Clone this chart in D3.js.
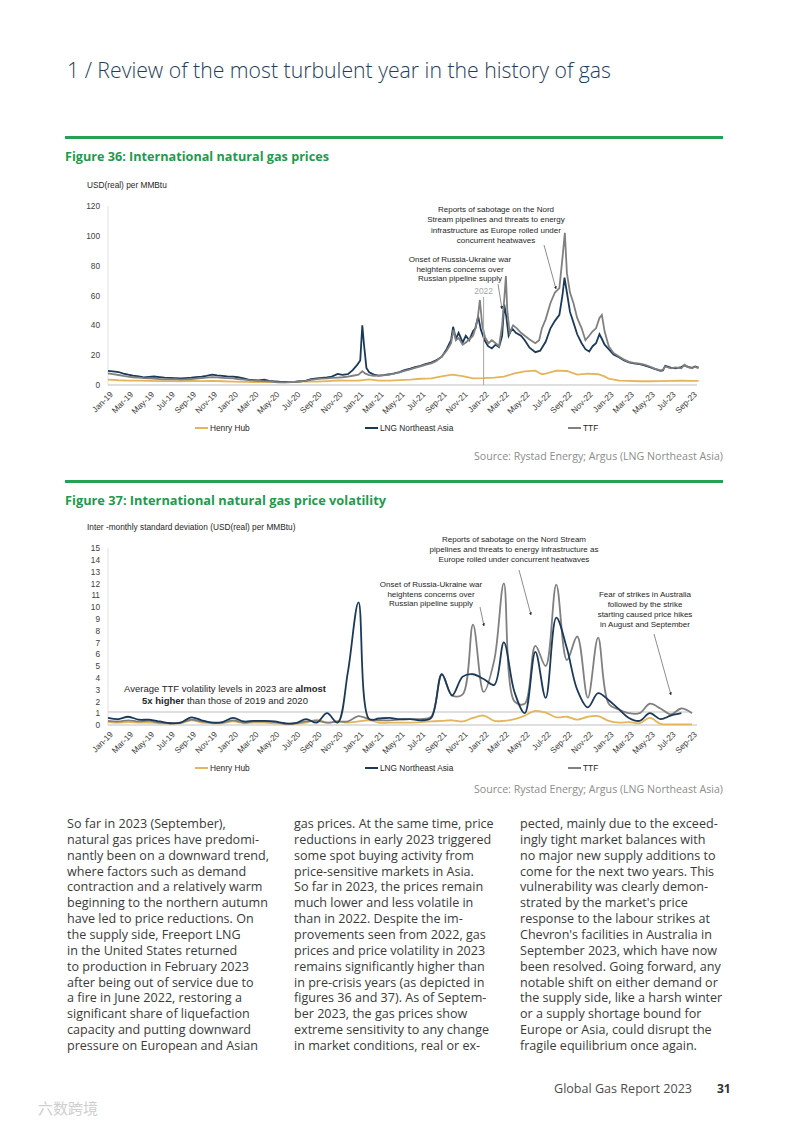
<!DOCTYPE html>
<html>
<head>
<meta charset="utf-8">
<script src="https://cdn.jsdelivr.net/npm/d3@7"></script>
<style>
  body { margin: 0; background: #fff; }
  svg { display: block; }
</style>
</head>
<body>
<svg id="page" width="789" height="1122"></svg>
<script>
// ---------- data ----------
const tickLabels = ['Jan-19', 'Mar-19', 'May-19', 'Jul-19', 'Sep-19', 'Nov-19', 'Jan-20', 'Mar-20', 'May-20', 'Jul-20',
  'Sep-20', 'Nov-20', 'Jan-21', 'Mar-21', 'May-21', 'Jul-21', 'Sep-21', 'Nov-21', 'Jan-22', 'Mar-22', 'May-22',
  'Jul-22', 'Sep-22', 'Nov-22', 'Jan-23', 'Mar-23', 'May-23', 'Jul-23', 'Sep-23']

const priceTicks = [0, 20, 40, 60, 80, 100, 120]
const volTicks = [0, 1, 2, 3, 4, 5, 6, 7, 8, 9, 10, 11, 12, 13, 14, 15]

// Figure 36: prices, USD(real) per MMBtu
const hhPrice = [
  ['2019-01-01', 3.6], ['2019-02-01', 3.2], ['2019-03-01', 3.0], ['2019-04-01', 2.9], ['2019-05-01', 2.8], ['2019-06-01', 2.6],
  ['2019-07-01', 2.6], ['2019-08-01', 2.5], ['2019-09-01', 2.8], ['2019-10-01', 2.6], ['2019-11-01', 2.8], ['2019-12-01', 2.5],
  ['2020-01-01', 2.3], ['2020-02-01', 2.1], ['2020-03-01', 2.0], ['2020-04-01', 1.9], ['2020-05-01', 1.9], ['2020-06-01', 1.8],
  ['2020-07-01', 1.9], ['2020-08-01', 2.5], ['2020-09-01', 2.2], ['2020-10-01', 2.6], ['2020-11-01', 3.0], ['2020-12-01', 2.9],
  ['2021-01-01', 3.0], ['2021-02-01', 3.8], ['2021-03-01', 3.0], ['2021-04-01', 3.0], ['2021-05-01', 3.3], ['2021-06-01', 3.6],
  ['2021-07-01', 4.2], ['2021-08-01', 4.5], ['2021-09-01', 5.8], ['2021-10-01', 7.0], ['2021-11-01', 6.0], ['2021-12-01', 4.5],
  ['2022-01-01', 4.6], ['2022-02-01', 5.0], ['2022-03-01', 5.6], ['2022-04-01', 7.8], ['2022-05-01', 9.2], ['2022-06-01', 9.6],
  ['2022-06-20', 7.2], ['2022-07-01', 7.6], ['2022-08-01', 9.6], ['2022-09-01', 9.4], ['2022-10-01', 7.0], ['2022-11-01', 7.6],
  ['2022-12-01', 7.2], ['2022-12-20', 5.8], ['2023-01-01', 4.2], ['2023-02-01', 3.0], ['2023-03-01', 2.7], ['2023-04-01', 2.5],
  ['2023-05-01', 2.5], ['2023-06-01', 2.6], ['2023-07-01', 2.8], ['2023-08-01', 2.9], ['2023-09-01', 2.8], ['2023-09-20', 2.8]
]

const lngPrice = [
  ['2019-01-01', 9.5], ['2019-01-15', 9.1], ['2019-02-01', 8.7], ['2019-02-15', 7.6], ['2019-03-01', 6.9], ['2019-03-15', 6.3],
  ['2019-04-01', 5.7], ['2019-04-15', 5.1], ['2019-05-01', 5.4], ['2019-05-15', 5.7], ['2019-06-01', 5.3], ['2019-06-15', 4.9],
  ['2019-07-01', 4.8], ['2019-07-15', 4.6], ['2019-08-01', 4.4], ['2019-08-15', 4.6], ['2019-09-01', 4.9], ['2019-09-15', 5.3],
  ['2019-10-01', 5.6], ['2019-10-15', 6.1], ['2019-11-01', 7.0], ['2019-11-15', 6.4], ['2019-12-01', 6.1], ['2019-12-15', 5.8],
  ['2020-01-01', 5.6], ['2020-01-15', 5.2], ['2020-02-01', 4.5], ['2020-02-15', 3.6], ['2020-03-01', 3.3], ['2020-03-15', 3.1],
  ['2020-04-01', 3.5], ['2020-04-15', 2.7], ['2020-05-01', 2.4], ['2020-05-15', 2.2], ['2020-06-01', 2.1], ['2020-06-15', 2.0],
  ['2020-07-01', 2.2], ['2020-07-15', 2.5], ['2020-08-01', 3.0], ['2020-08-15', 3.9], ['2020-09-01', 4.5], ['2020-09-15', 4.8],
  ['2020-10-01', 5.1], ['2020-10-15', 5.6], ['2020-11-01', 7.4], ['2020-11-15', 6.8], ['2020-12-01', 7.3], ['2020-12-15', 10.0],
  ['2020-12-28', 13.5], ['2021-01-06', 16.5], ['2021-01-12', 40.0], ['2021-01-17', 27.0], ['2021-01-24', 11.5], ['2021-02-01', 8.5],
  ['2021-02-15', 7.0], ['2021-03-01', 6.3], ['2021-03-15', 6.6], ['2021-04-01', 7.2], ['2021-04-15', 7.8], ['2021-05-01', 8.7],
  ['2021-05-15', 10.0], ['2021-06-01', 11.0], ['2021-06-15', 12.0], ['2021-07-01', 12.8], ['2021-07-15', 14.0], ['2021-08-01', 15.0],
  ['2021-08-15', 16.5], ['2021-09-01', 19.0], ['2021-09-15', 24.0], ['2021-09-28', 30.0], ['2021-10-04', 39.0], ['2021-10-12', 31.0],
  ['2021-10-20', 35.0], ['2021-11-01', 28.5], ['2021-11-10', 33.0], ['2021-11-20', 30.0], ['2021-12-01', 36.0], ['2021-12-08', 38.0],
  ['2021-12-16', 46.0], ['2021-12-24', 37.0], ['2022-01-04', 30.0], ['2022-01-14', 26.0], ['2022-01-25', 24.5], ['2022-02-05', 27.0],
  ['2022-02-15', 25.5], ['2022-02-24', 33.0], ['2022-03-02', 54.0], ['2022-03-08', 46.0], ['2022-03-15', 33.0], ['2022-03-25', 38.0],
  ['2022-04-05', 35.0], ['2022-04-20', 33.0], ['2022-05-01', 30.0], ['2022-05-15', 25.0], ['2022-06-01', 22.0], ['2022-06-15', 23.0],
  ['2022-07-01', 29.0], ['2022-07-15', 38.0], ['2022-07-28', 43.0], ['2022-08-10', 47.0], ['2022-08-19', 60.0], ['2022-08-25', 72.0],
  ['2022-09-01', 62.0], ['2022-09-10', 49.0], ['2022-09-20', 42.0], ['2022-10-01', 34.0], ['2022-10-14', 28.0], ['2022-10-25', 24.0],
  ['2022-11-05', 22.5], ['2022-11-15', 26.0], ['2022-11-25', 28.0], ['2022-12-05', 34.0], ['2022-12-12', 31.0], ['2022-12-20', 27.0],
  ['2023-01-01', 24.0], ['2023-01-15', 20.5], ['2023-02-01', 18.5], ['2023-02-15', 16.5], ['2023-03-01', 15.2], ['2023-03-15', 14.5],
  ['2023-04-01', 14.0], ['2023-04-15', 13.2], ['2023-05-01', 12.0], ['2023-05-15', 10.8], ['2023-06-01', 9.5], ['2023-06-08', 9.8],
  ['2023-06-15', 12.8], ['2023-07-01', 11.6], ['2023-07-15', 11.2], ['2023-08-01', 12.0], ['2023-08-10', 13.2], ['2023-08-20', 12.2],
  ['2023-09-01', 11.5], ['2023-09-10', 12.4], ['2023-09-20', 11.6]
]

const ttfPrice = [
  ['2019-01-01', 7.8], ['2019-01-15', 7.3], ['2019-02-01', 6.7], ['2019-02-15', 6.1], ['2019-03-01', 5.6], ['2019-03-15', 5.2],
  ['2019-04-01', 4.9], ['2019-04-15', 4.6], ['2019-05-01', 4.5], ['2019-05-15', 4.3], ['2019-06-01', 4.0], ['2019-06-15', 3.8],
  ['2019-07-01', 3.8], ['2019-07-15', 3.9], ['2019-08-01', 3.6], ['2019-08-15', 3.8], ['2019-09-01', 4.0], ['2019-09-15', 4.3],
  ['2019-10-01', 4.7], ['2019-10-15', 4.9], ['2019-11-01', 5.3], ['2019-11-15', 5.1], ['2019-12-01', 4.8], ['2019-12-15', 4.6],
  ['2020-01-01', 4.4], ['2020-01-15', 4.0], ['2020-02-01', 3.6], ['2020-02-15', 3.2], ['2020-03-01', 3.0], ['2020-03-15', 2.8],
  ['2020-04-01', 2.6], ['2020-04-15', 2.4], ['2020-05-01', 2.0], ['2020-05-15', 1.8], ['2020-06-01', 1.8], ['2020-06-15', 2.0],
  ['2020-07-01', 2.0], ['2020-07-15', 2.4], ['2020-08-01', 2.8], ['2020-08-15', 3.4], ['2020-09-01', 4.0], ['2020-09-15', 4.3],
  ['2020-10-01', 4.5], ['2020-10-15', 4.8], ['2020-11-01', 5.0], ['2020-11-15', 5.2], ['2020-12-01', 5.6], ['2020-12-15', 6.2],
  ['2021-01-01', 7.0], ['2021-01-12', 9.2], ['2021-01-20', 7.8], ['2021-02-01', 6.6], ['2021-02-15', 6.2], ['2021-03-01', 6.3],
  ['2021-03-15', 6.5], ['2021-04-01', 7.0], ['2021-04-15', 7.6], ['2021-05-01', 8.5], ['2021-05-15', 9.5], ['2021-06-01', 10.5],
  ['2021-06-15', 11.5], ['2021-07-01', 12.5], ['2021-07-15', 13.5], ['2021-08-01', 14.5], ['2021-08-15', 16.0], ['2021-09-01', 19.0],
  ['2021-09-15', 23.0], ['2021-09-28', 28.0], ['2021-10-05', 37.0], ['2021-10-12', 30.0], ['2021-10-20', 31.5], ['2021-11-01', 27.0],
  ['2021-11-10', 28.5], ['2021-11-20', 30.5], ['2021-12-01', 33.0], ['2021-12-08', 38.0], ['2021-12-15', 45.0], ['2021-12-21', 57.0],
  ['2021-12-28', 40.0], ['2022-01-05', 32.0], ['2022-01-15', 28.0], ['2022-01-25', 30.0], ['2022-02-05', 28.0], ['2022-02-15', 26.0],
  ['2022-02-24', 40.0], ['2022-03-03', 60.0], ['2022-03-07', 73.0], ['2022-03-11', 50.0], ['2022-03-18', 35.0], ['2022-03-28', 40.0],
  ['2022-04-08', 38.0], ['2022-04-20', 35.0], ['2022-05-01', 33.0], ['2022-05-15', 30.5], ['2022-06-01', 28.0], ['2022-06-12', 30.0],
  ['2022-06-20', 38.0], ['2022-07-01', 44.0], ['2022-07-15', 55.0], ['2022-07-28', 62.0], ['2022-08-10', 65.0], ['2022-08-19', 85.0],
  ['2022-08-26', 102.0], ['2022-09-01', 75.0], ['2022-09-10', 62.0], ['2022-09-20', 55.0], ['2022-10-01', 45.0], ['2022-10-14', 38.0],
  ['2022-10-25', 30.0], ['2022-11-05', 33.0], ['2022-11-15', 36.0], ['2022-11-25', 38.0], ['2022-12-05', 45.0], ['2022-12-12', 47.0],
  ['2022-12-20', 36.0], ['2023-01-01', 26.0], ['2023-01-15', 21.5], ['2023-02-01', 19.0], ['2023-02-15', 17.0], ['2023-03-01', 15.5],
  ['2023-03-15', 14.8], ['2023-04-01', 14.4], ['2023-04-15', 13.6], ['2023-05-01', 12.4], ['2023-05-15', 11.0], ['2023-06-01', 9.8],
  ['2023-06-08', 10.2], ['2023-06-15', 12.4], ['2023-07-01', 11.2], ['2023-07-15', 11.8], ['2023-08-01', 11.2], ['2023-08-10', 13.6],
  ['2023-08-20', 12.0], ['2023-09-01', 11.2], ['2023-09-10', 12.2], ['2023-09-20', 11.2]
]

// Figure 37: monthly volatility from Jan-19, one value per month
const hhVol = [
  0.25, 0.2, 0.25, 0.2, 0.2, 0.15, 0.15, 0.15, 0.4, 0.2, 0.15, 0.15,
  0.3, 0.15, 0.2, 0.2, 0.15, 0.1, 0.1, 0.2, 0.45, 0.2, 0.3, 0.2,
  0.3, 0.4, 0.2, 0.2, 0.2, 0.2, 0.25, 0.3, 0.35, 0.4, 0.3, 0.6,
  0.8, 0.35, 0.35, 0.5, 0.8, 1.2, 1.05, 0.65, 0.7, 0.45, 0.7, 0.75,
  0.35, 0.2, 0.25, 0.15, 0.6, 0.1, 0.05, 0.05, 0.05
]
const lngVol = [
  0.6, 0.5, 0.7, 0.45, 0.45, 0.3, 0.15, 0.2, 0.65, 0.4, 0.2, 0.25,
  0.6, 0.3, 0.35, 0.35, 0.3, 0.15, 0.15, 0.5, 0.2, 1.0, 0.2, 4.5,
  10.4, 0.5, 0.55, 0.6, 0.5, 0.5, 0.4, 0.6, 4.3, 2.5, 4.1, 4.3,
  3.9, 3.4, 7.0, 2.8, 1.0, 6.2, 2.3, 9.1, 6.5, 3.0, 1.5, 2.7,
  2.1, 1.3, 0.6, 0.35, 1.0, 0.5, 0.8, 1.0
]
const ttfVol = [
  0.35, 0.3, 0.4, 0.3, 0.35, 0.2, 0.15, 0.2, 0.45, 0.3, 0.2, 0.2,
  0.4, 0.2, 0.3, 0.3, 0.25, 0.1, 0.15, 0.3, 0.35, 0.2, 0.3, 0.3,
  0.75, 0.5, 0.4, 0.4, 0.45, 0.5, 0.5, 0.7, 4.3, 2.5, 2.6, 8.5,
  2.8, 5.5, 12.0, 2.0, 1.8, 6.7, 5.0, 11.9, 5.5, 7.5, 2.3, 7.4,
  1.8, 1.3, 1.0, 1.0, 1.8, 1.4, 0.9, 1.4, 1.0
]
const avgTtfVol2023 = 1.1

const seriesNames = ['Henry Hub', 'LNG Northeast Asia', 'TTF']

const col1Lines = [
  'So far in 2023 (September),', 'natural gas prices have predomi-', 'nantly been on a downward trend,',
  'where factors such as demand', 'contraction and a relatively warm', 'beginning to the northern autumn',
  'have led to price reductions. On', 'the supply side, Freeport LNG', 'in the United States returned',
  'to production in February 2023', 'after being out of service due to', 'a fire in June 2022, restoring a',
  'significant share of liquefaction', 'capacity and putting downward', 'pressure on European and Asian'
]
const col2Lines = [
  'gas prices. At the same time, price', 'reductions in early 2023 triggered', 'some spot buying activity from',
  'price-sensitive markets in Asia.', 'So far in 2023, the prices remain', 'much lower and less volatile in',
  'than in 2022. Despite the im-', 'provements seen from 2022, gas', 'prices and price volatility in 2023',
  'remains significantly higher than', 'in pre-crisis years (as depicted in', 'figures 36 and 37). As of Septem-',
  'ber 2023, the gas prices show', 'extreme sensitivity to any change', 'in market conditions, real or ex-'
]
const col3Lines = [
  'pected, mainly due to the exceed-', 'ingly tight market balances with', 'no major new supply additions to',
  'come for the next two years. This', 'vulnerability was clearly demon-', 'strated by the market\'s price',
  'response to the labour strikes at', 'Chevron\'s facilities in Australia in', 'September 2023, which have now',
  'been resolved. Going forward, any', 'notable shift on either demand or', 'the supply side, like a harsh winter',
  'or a supply shortage bound for', 'Europe or Asia, could disrupt the', 'fragile equilibrium once again.'
]

// ---------- setup ----------
const svg = d3.select('#page')
const chartFont = "'Liberation Sans', Arial, sans-serif"
const pageFont = "'Open Sans', 'Noto Sans', sans-serif"
const colors = { hh: '#e4b55a', lng: '#1b3a5a', ttf: '#808080' }
const green = '#24a153'
const textDark = '#262626'
const smallSize = '8.3px'

const parseDay = d3.timeParse('%Y-%m-%d')
const parseTick = d3.timeParse('%b-%y')
const tickDates = tickLabels.map(parseTick)
const volMonths = d3.timeMonth.range(parseDay('2019-01-01'), parseDay('2023-10-01'))

const x = d3.scaleTime()
  .domain([parseDay('2019-01-01'), parseDay('2023-09-01')])
  .range([108, 692])
const yPrice = d3.scaleLinear().domain([0, 120]).range([385, 206])
const yVol = d3.scaleLinear().domain([0, 15]).range([725, 548])

svg.append('defs').append('marker')
  .attr('id', 'arrow')
  .attr('viewBox', '0 0 10 10')
  .attr('refX', 9)
  .attr('refY', 5)
  .attr('markerWidth', 5)
  .attr('markerHeight', 5)
  .attr('orient', 'auto')
  .append('path')
  .attr('d', 'M0,0L10,5L0,10z')
  .attr('fill', '#262626')

/**
 * Writes a line of page text.
 */
function pageText (txt, px, py, size, opts = {}) {
  const t = svg.append('text')
    .attr('x', px)
    .attr('y', py)
    .style('font-family', opts.family || pageFont)
    .style('font-size', size + 'px')
    .style('font-weight', opts.weight || 400)
    .attr('fill', opts.fill || '#333')
    .attr('text-anchor', opts.anchor || 'start')
    .text(txt)
  if (opts.width) t.attr('textLength', opts.width).attr('lengthAdjust', 'spacingAndGlyphs')
  return t
}

/**
 * Draws axes, frame lines and legend for one chart.
 */
function drawFrame (y, yTickValues, axisY, yLabel, yLabelY, legendY) {
  const top = y.range()[1]
  svg.append('line')
    .attr('x1', 108).attr('x2', 108).attr('y1', top).attr('y2', axisY)
    .attr('stroke', '#d9d9d9').attr('stroke-width', 0.8)

  const yAxis = svg.append('g')
    .attr('transform', 'translate(108,0)')
    .call(d3.axisLeft(y).tickValues(yTickValues).tickSize(0).tickPadding(8))
  yAxis.select('.domain').remove()
  yAxis.selectAll('text')
    .style('font-family', chartFont).style('font-size', smallSize).attr('fill', '#404040')

  const xAxis = svg.append('g')
    .attr('transform', `translate(0,${axisY})`)
    .call(d3.axisBottom(x).tickValues(tickDates).tickSize(0).tickFormat(d3.timeFormat('%b-%y')))
  xAxis.select('.domain').remove()
  xAxis.selectAll('text')
    .attr('x', 0).attr('y', 0).attr('dy', '0.35em')
    .attr('text-anchor', 'end')
    .attr('transform', 'translate(3,8) rotate(-45)')
    .style('font-family', chartFont).style('font-size', smallSize).attr('fill', '#404040')

  svg.append('line')
    .attr('x1', 108).attr('x2', 697).attr('y1', axisY).attr('y2', axisY)
    .attr('stroke', '#bfbfbf').attr('stroke-width', 1)

  svg.append('text')
    .attr('x', 87).attr('y', yLabelY)
    .style('font-family', chartFont).style('font-size', smallSize)
    .attr('fill', textDark)
    .text(yLabel)

  const legendX = [195, 365, 568]
  const legendColors = [colors.hh, colors.lng, colors.ttf]
  const legend = svg.append('g')
    .selectAll('g')
    .data(seriesNames)
    .enter()
    .append('g')
    .attr('transform', (d, i) => `translate(${legendX[i]},${legendY})`)
  legend.append('line')
    .attr('x1', 0).attr('x2', 13)
    .attr('stroke', (d, i) => legendColors[i]).attr('stroke-width', 2)
  legend.append('text')
    .attr('x', 15).attr('dy', '0.35em')
    .style('font-family', chartFont).style('font-size', smallSize)
    .attr('fill', textDark)
    .text(d => d)
}

/**
 * Centred multi-line chart note with an optional arrow.
 */
function drawNote (lines, cx, firstBaseline, lineHeight, arrow) {
  const t = svg.append('text')
    .attr('text-anchor', 'middle')
    .style('font-family', chartFont).style('font-size', '8px')
    .attr('fill', textDark)
  lines.forEach((ln, i) => {
    t.append('tspan').attr('x', cx).attr('y', firstBaseline + i * lineHeight).text(ln)
  })
  if (arrow) {
    svg.append('line')
      .attr('x1', arrow[0]).attr('y1', arrow[1]).attr('x2', arrow[2]).attr('y2', arrow[3])
      .attr('stroke', '#404040').attr('stroke-width', 0.6)
      .attr('marker-end', 'url(#arrow)')
  }
}

// ---------- page header ----------
pageText('1 / Review of the most turbulent year in the history of gas', 67, 78, 22,
  { weight: 300, fill: '#1f3d5c', width: 544 })

svg.append('rect').attr('x', 65).attr('y', 136).attr('width', 658).attr('height', 3).attr('fill', green)
pageText('Figure 36: International natural gas prices', 65, 161, 12,
  { weight: 700, fill: '#1f9a4d', width: 264 })

// ---------- Figure 36 ----------
drawFrame(yPrice, priceTicks, 385, 'USD(real) per MMBtu', 188, 428)

const priceLine = d3.line()
  .x(d => x(parseDay(d[0])))
  .y(d => yPrice(d[1]))

svg.append('path').datum(hhPrice).attr('d', priceLine)
  .attr('fill', 'none').attr('stroke', colors.hh).attr('stroke-width', 1.8)
svg.append('path').datum(lngPrice).attr('d', priceLine)
  .attr('fill', 'none').attr('stroke', colors.lng).attr('stroke-width', 1.8)
svg.append('path').datum(ttfPrice).attr('d', priceLine)
  .attr('fill', 'none').attr('stroke', colors.ttf).attr('stroke-width', 1.8)

// 2022 marker
const x2022 = x(parseDay('2022-01-01'))
svg.append('line')
  .attr('x1', x2022).attr('x2', x2022).attr('y1', 297).attr('y2', 385)
  .attr('stroke', '#a6a6a6').attr('stroke-width', 1)
svg.append('text')
  .attr('x', x2022).attr('y', 294).attr('text-anchor', 'middle')
  .style('font-family', chartFont).style('font-size', '8.5px')
  .attr('fill', '#a6a6a6')
  .text('2022')

drawNote(['Reports of sabotage on the Nord', 'Stream pipelines and threats to energy',
  'infrastructure as Europe roiled under', 'concurrent heatwaves'], 496, 212, 10.3, [544, 245, 556, 289])
drawNote(['Onset of Russia-Ukraine war', 'heightens concerns over', 'Russian pipeline supply'],
  460, 262, 9.6, [498, 284, 502, 309])

pageText('Source: Rystad Energy; Argus (LNG Northeast Asia)', 723, 460, 10,
  { fill: '#8c8c8c', anchor: 'end', width: 249 })

// ---------- Figure 37 ----------
svg.append('rect').attr('x', 65).attr('y', 480).attr('width', 658).attr('height', 3).attr('fill', green)
pageText('Figure 37: International natural gas price volatility', 65, 505, 12,
  { weight: 700, fill: '#1f9a4d', width: 321 })

drawFrame(yVol, volTicks, 725, 'Inter -monthly standard deviation (USD(real) per MMBtu)', 530, 768)

svg.append('line')
  .attr('x1', x(parseDay('2019-01-01'))).attr('x2', x(parseDay('2023-09-01')))
  .attr('y1', yVol(avgTtfVol2023)).attr('y2', yVol(avgTtfVol2023))
  .attr('stroke', '#bfbfbf').attr('stroke-width', 1.2)

const volLine = d3.line()
  .x((d, i) => x(volMonths[i]))
  .y(d => yVol(d))
  .curve(d3.curveCatmullRom)

svg.append('path').datum(hhVol).attr('d', volLine)
  .attr('fill', 'none').attr('stroke', colors.hh).attr('stroke-width', 1.8)
svg.append('path').datum(ttfVol).attr('d', volLine)
  .attr('fill', 'none').attr('stroke', colors.ttf).attr('stroke-width', 1.8)
svg.append('path').datum(lngVol).attr('d', volLine)
  .attr('fill', 'none').attr('stroke', colors.lng).attr('stroke-width', 1.8)

// average volatility note
const avgNote = svg.append('text')
  .attr('text-anchor', 'middle')
  .style('font-family', chartFont).style('font-size', '9.5px')
  .attr('fill', textDark)
const avgL1 = avgNote.append('tspan').attr('x', 225).attr('y', 692)
avgL1.append('tspan').text('Average TTF volatility levels in 2023 are ')
avgL1.append('tspan').style('font-weight', 700).text('almost')
const avgL2 = avgNote.append('tspan').attr('x', 225).attr('y', 703.5)
avgL2.append('tspan').style('font-weight', 700).text('5x higher')
avgL2.append('tspan').text(' than those of  2019 and 2020')

drawNote(['Reports of sabotage on the Nord Stream', 'pipelines and threats to energy infrastructure as',
  'Europe roiled under concurrent heatwaves'], 514, 542, 10, [519, 570, 531, 615])
drawNote(['Onset of Russia-Ukraine war', 'heightens concerns over', 'Russian pipeline supply'],
  431, 587, 9.6, [480, 607, 484, 626])
drawNote(['Fear of strikes in Australia', 'followed by the strike', 'starting caused price hikes',
  'in August and September'], 645, 597, 10, [654, 634, 671, 695])

pageText('Source: Rystad Energy; Argus (LNG Northeast Asia)', 723, 793, 10,
  { fill: '#8c8c8c', anchor: 'end', width: 249 })

// ---------- body text ----------
const probe = pageText(col1Lines[0], 0, -20, 12)
const bodySize = 12 * 159 / probe.node().getComputedTextLength()
probe.remove()

const columns = [[67, col1Lines], [294, col2Lines], [520, col3Lines]]
columns.forEach(([cx, lines]) => {
  const t = svg.append('text')
    .style('font-family', pageFont)
    .style('font-size', bodySize + 'px')
    .attr('fill', '#3a3a3a')
  lines.forEach((ln, i) => {
    t.append('tspan').attr('x', cx).attr('y', 828 + i * 15.86).text(ln)
  })
})

// ---------- footer ----------
pageText('Global Gas Report 2023', 692, 1093, 12, { fill: '#4d4d4d', anchor: 'end', width: 138 })
pageText('31', 717, 1093, 12, { weight: 700, fill: '#333' })
pageText('六数跨境', 38, 1114, 15, { family: "'Noto Sans CJK SC', sans-serif", fill: '#cfcfcf' })
</script>
</body>
</html>
